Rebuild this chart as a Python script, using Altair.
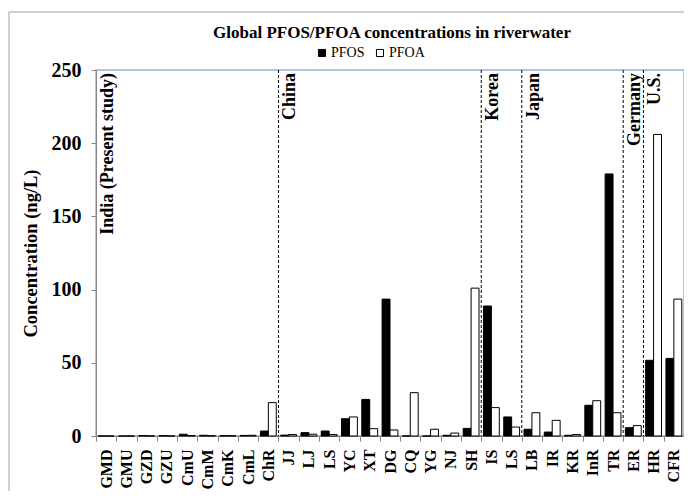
import json
import altair as alt
import pandas as pd

# ---- data ----
sites = ["GMD", "GMU", "GZD", "GZU", "CmU", "CmM", "CmK", "CmL", "ChR",
         "JJ", "LJ", "LS", "YC", "XT", "DG", "CQ", "YG", "NJ", "SH",
         "IS", "LS",
         "LB", "IR", "KR", "InR", "TR",
         "ER",
         "HR", "CFR"]
pfos = [0.0, 0.0, 0.3, 0.2, 1.2, 0.5, 0.2, 0.4, 3.4,
        0.6, 2.3, 3.4, 11.8, 25.0, 93.5, 0.0, 0.0, 0.5, 5.2,
        88.8, 13.0,
        4.6, 2.7, 0.5, 21.0, 179.0,
        5.7,
        51.7, 53.0]
pfoa = [0.0, 0.0, 0.0, 0.0, 0.3, 0.2, 0.2, 0.5, 22.8,
        1.0, 1.2, 1.0, 13.0, 5.0, 4.1, 29.6, 4.6, 2.0, 101.0,
        19.4, 6.1,
        15.9, 10.7, 1.0, 24.1, 15.9,
        7.1,
        206.0, 93.5]
regions = ["India (Present study)", "China", "Korea", "Japan", "Germany", "U.S."]
region_start = [0, 9, 19, 21, 26, 27]
series = ["PFOS", "PFOA"]
title_text = ["Global PFOS/PFOA concentrations in riverwater"]

FONT = "Liberation Serif"

rows = []
for i, s in enumerate(sites):
    rows.append({"i": i, "site": s, "series": "PFOS", "value": pfos[i]})
    rows.append({"i": i, "site": s, "series": "PFOA", "value": pfoa[i]})
df = pd.DataFrame(rows)
reg_df = pd.DataFrame({"region": regions, "i": region_start})
sep_df = reg_df[reg_df["i"] > 0]
title_df = pd.DataFrame({"t": title_text})

label_expr = json.dumps(sites) + "[datum.value]"

xscale = alt.Scale(paddingInner=0, paddingOuter=0)
xaxis = alt.Axis(labelExpr=label_expr, labelAngle=270, tickBand="extent",
                 labelFont=FONT, labelFontSize=16, labelFontWeight="bold",
                 labelColor="black", labelPadding=8, tickSize=5,
                 tickColor="#868686", domainColor="#868686")

bars = alt.Chart(df).mark_bar(stroke="black", strokeWidth=1).encode(
    x=alt.X("i:O", scale=xscale, title=None, axis=xaxis),
    xOffset=alt.XOffset("series:N", sort=series,
                        scale=alt.Scale(paddingInner=0, paddingOuter=0.28)),
    y=alt.Y("value:Q", scale=alt.Scale(domain=[0, 250], nice=False),
            title="Concentration (ng/L)",
            axis=alt.Axis(values=[0, 50, 100, 150, 200, 250], grid=False,
                          labelFont=FONT, labelFontSize=20, labelFontWeight="bold",
                          labelColor="black", labelPadding=10, tickSize=5,
                          tickColor="#868686", domainColor="#868686",
                          titleFont=FONT, titleFontSize=18.5, titleFontWeight="bold",
                          titleColor="black", titlePadding=11)),
    fill=alt.Fill("series:N", sort=series,
                  scale=alt.Scale(domain=series, range=["black", "white"]),
                  legend=alt.Legend(title=None, orient="none", legendX=219, legendY=-24,
                                    direction="horizontal", symbolType="square",
                                    symbolSize=50, symbolStrokeColor="black",
                                    symbolStrokeWidth=1, labelFont=FONT,
                                    labelFontSize=14, labelColor="black",
                                    columnPadding=8, labelOffset=2)),
)

seps = alt.Chart(sep_df).mark_rule(color="black", strokeDash=[3, 2], strokeWidth=1).encode(
    x=alt.X("i:O", bandPosition=0, scale=xscale, title=None, axis=xaxis),
)

reg_text = alt.Chart(reg_df).mark_text(
    angle=270, align="right", baseline="top", dy=3,
    font=FONT, fontSize=18, fontWeight="bold", color="black"
).encode(
    x=alt.X("i:O", bandPosition=0, scale=xscale, title=None, axis=xaxis),
    y=alt.value(3),
    text="region:N",
)

title_mark = alt.Chart(title_df).mark_text(
    font=FONT, fontSize=17, fontWeight="bold", color="black",
    align="center", baseline="middle"
).encode(x=alt.value(296), y=alt.value(-37), text="t:N")

frame_top = alt.Chart(title_df).mark_rule(color="#C0C0C0", strokeWidth=1.5).encode(
    x=alt.value(-87), x2=alt.value(600), y=alt.value(-58)
)
frame_left = alt.Chart(title_df).mark_rule(color="#C0C0C0", strokeWidth=1.5).encode(
    x=alt.value(-87), y=alt.value(-58), y2=alt.value(500)
)

chart = alt.layer(frame_top, frame_left, bars, seps, reg_text, title_mark).properties(
    width=588, height=366,
    autosize=alt.AutoSizeParams(type="none"),
    padding={"left": 88, "top": 62, "right": 0, "bottom": 55},
).configure_view(stroke="#95B3D7", strokeWidth=1.5)

chart.save("out.html", embed_options={"renderer": "svg", "actions": False})
